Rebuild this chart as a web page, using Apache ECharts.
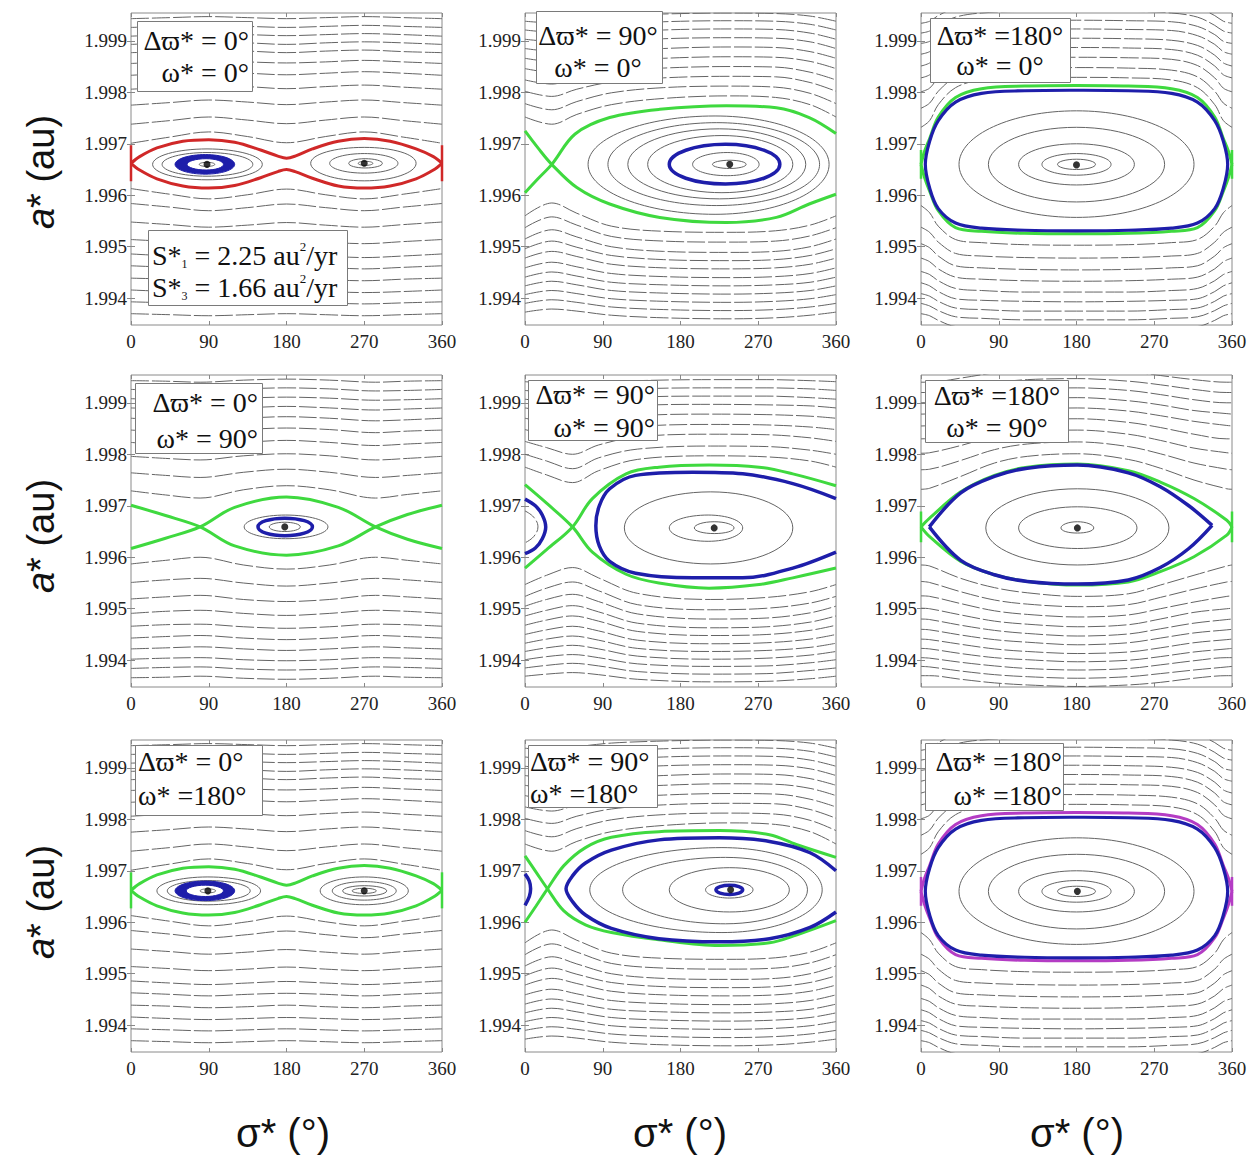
<!DOCTYPE html>
<html>
<head>
<meta charset="utf-8">
<title>Phase portraits a* vs sigma*</title>
<script src="https://cdn.jsdelivr.net/npm/echarts@6.0.0/dist/echarts.min.js"></script>
<style>
  html, body { margin: 0; padding: 0; background: #fff; }
  #chart { width: 1254px; height: 1156px; }
</style>
</head>
<body>
<div id="chart"></div>
<script>
// ---- axes ----
const SIGMA_TICKS = [0, 90, 180, 270, 360];
const A_TICKS = [1.994, 1.995, 1.996, 1.997, 1.998, 1.999];
const A_MIN = 1.99348;
const A_MAX = 1.99954;

// ---- panel 1 : dw=0, w=0 (red separatrix) ----
const p1Nodes = [0, 45, 90, 135, 180, 225, 270, 315, 360];
const p1Above = [
  [1.99701, 1.99713, 1.99723, 1.99714, 1.99702, 1.99714, 1.99723, 1.99713, 1.99701],
  [1.99738, 1.99745, 1.99752, 1.99746, 1.99739, 1.99746, 1.99752, 1.99745, 1.99738],
  [1.99775, 1.99780, 1.99785, 1.99781, 1.99776, 1.99781, 1.99785, 1.99780, 1.99775],
  [1.99806, 1.99810, 1.99814, 1.99811, 1.99807, 1.99811, 1.99814, 1.99810, 1.99806],
  [1.99833, 1.99837, 1.99840, 1.99837, 1.99834, 1.99837, 1.99840, 1.99837, 1.99833],
  [1.99856, 1.99859, 1.99862, 1.99859, 1.99857, 1.99859, 1.99862, 1.99859, 1.99856],
  [1.99877, 1.99879, 1.99882, 1.99880, 1.99877, 1.99880, 1.99882, 1.99879, 1.99877],
  [1.99893, 1.99896, 1.99898, 1.99896, 1.99893, 1.99896, 1.99898, 1.99896, 1.99893],
  [1.99909, 1.99912, 1.99914, 1.99912, 1.99910, 1.99912, 1.99914, 1.99912, 1.99909],
  [1.99926, 1.99928, 1.99930, 1.99928, 1.99926, 1.99928, 1.99930, 1.99928, 1.99926],
  [1.99943, 1.99945, 1.99947, 1.99945, 1.99943, 1.99945, 1.99947, 1.99945, 1.99943]
];
const p1Below = [
  [1.99613, 1.99602, 1.99593, 1.99601, 1.99612, 1.99601, 1.99593, 1.99602, 1.99613],
  [1.99584, 1.99577, 1.99570, 1.99576, 1.99583, 1.99576, 1.99570, 1.99577, 1.99584],
  [1.99548, 1.99543, 1.99538, 1.99542, 1.99547, 1.99542, 1.99538, 1.99543, 1.99548],
  [1.99514, 1.99510, 1.99506, 1.99509, 1.99513, 1.99509, 1.99506, 1.99510, 1.99514],
  [1.99486, 1.99482, 1.99479, 1.99482, 1.99485, 1.99482, 1.99479, 1.99482, 1.99486],
  [1.99463, 1.99460, 1.99457, 1.99460, 1.99462, 1.99460, 1.99457, 1.99460, 1.99463],
  [1.99439, 1.99437, 1.99434, 1.99436, 1.99439, 1.99436, 1.99434, 1.99437, 1.99439],
  [1.99416, 1.99413, 1.99411, 1.99413, 1.99415, 1.99413, 1.99411, 1.99413, 1.99416],
  [1.99393, 1.99391, 1.99389, 1.99391, 1.99393, 1.99391, 1.99389, 1.99391, 1.99393],
  [1.99370, 1.99368, 1.99366, 1.99368, 1.99370, 1.99368, 1.99366, 1.99368, 1.99370]
];
const p1Sep = [
  [[0, 1.99662], [10, 1.99675], [30, 1.99692], [60, 1.99705], [90, 1.99708], [120, 1.99703], [150, 1.99688], [170, 1.99676], [180, 1.99672],
   [190, 1.99676], [210, 1.99690], [240, 1.99705], [270, 1.99710], [300, 1.99705], [330, 1.99690], [350, 1.99675], [360, 1.99662]],
  [[0, 1.99662], [10, 1.99649], [30, 1.99632], [60, 1.99618], [90, 1.99614], [120, 1.99619], [150, 1.99634], [170, 1.99646], [180, 1.99650],
   [190, 1.99646], [210, 1.99633], [240, 1.99618], [270, 1.99614], [300, 1.99618], [330, 1.99632], [350, 1.99649], [360, 1.99662]]
];
const p1Edges = [[[0, 1.99697], [0, 1.99627]], [[360, 1.99697], [360, 1.99627]]];
const p1Rings = [
  [[25, 1.9966], [88, 1.9969], [152, 1.9966], [88, 1.9963]],
  [[36, 1.9966], [88, 1.99683], [141, 1.9966], [88, 1.99637]],
  [[208, 1.99662], [270, 1.99693], [330, 1.99662], [270, 1.99628]],
  [[230, 1.99662], [270, 1.99681], [309, 1.99662], [270, 1.99643]],
  [[252, 1.99662], [271, 1.99671], [291, 1.99662], [271, 1.99653]],
  [[263, 1.99662], [271, 1.99666], [280, 1.99662], [271, 1.99658]]
];
const p1Inner = [[[79, 1.9966], [88, 1.99664], [97, 1.9966], [88, 1.99656]]];
const p1Band = [
  [[51, 1.9966], [86, 1.99679], [120, 1.9966], [86, 1.99641]],
  [[65, 1.9966], [87, 1.99671], [107, 1.9966], [87, 1.99649]]
];
const p1Dots = [[88, 1.9966], [270, 1.99662]];

// ---- panel 2 : dw=90, w=0 ----
const p2Nodes = [0, 31, 60, 100, 160, 235, 290, 330, 360];
const p2Above = [
  [1.99752, 1.99738, 1.99757, 1.99776, 1.99788, 1.99793, 1.99790, 1.99776, 1.99752],
  [1.99778, 1.99766, 1.99782, 1.99799, 1.99809, 1.99812, 1.99810, 1.99798, 1.99778],
  [1.99802, 1.99792, 1.99806, 1.99820, 1.99828, 1.99831, 1.99830, 1.99819, 1.99802],
  [1.99824, 1.99816, 1.99828, 1.99840, 1.99847, 1.99850, 1.99849, 1.99839, 1.99824],
  [1.99846, 1.99839, 1.99849, 1.99860, 1.99866, 1.99869, 1.99868, 1.99860, 1.99846],
  [1.99866, 1.99860, 1.99869, 1.99879, 1.99885, 1.99888, 1.99887, 1.99879, 1.99866],
  [1.99885, 1.99880, 1.99888, 1.99898, 1.99904, 1.99906, 1.99905, 1.99898, 1.99885],
  [1.99903, 1.99899, 1.99906, 1.99915, 1.99921, 1.99923, 1.99922, 1.99915, 1.99903],
  [1.99921, 1.99917, 1.99924, 1.99932, 1.99937, 1.99939, 1.99938, 1.99932, 1.99921],
  [1.99938, 1.99935, 1.99941, 1.99948, 1.99952, 1.99954, 1.99953, 1.99948, 1.99938]
];
const p2Below = [
  [1.99560, 1.99585, 1.99565, 1.99540, 1.99530, 1.99528, 1.99531, 1.99542, 1.99560],
  [1.99537, 1.99558, 1.99542, 1.99520, 1.99511, 1.99509, 1.99511, 1.99521, 1.99537],
  [1.99515, 1.99533, 1.99519, 1.99500, 1.99491, 1.99489, 1.99491, 1.99500, 1.99515],
  [1.99496, 1.99511, 1.99499, 1.99483, 1.99475, 1.99473, 1.99475, 1.99483, 1.99496],
  [1.99478, 1.99491, 1.99481, 1.99466, 1.99459, 1.99457, 1.99459, 1.99466, 1.99478],
  [1.99459, 1.99470, 1.99461, 1.99448, 1.99442, 1.99440, 1.99442, 1.99448, 1.99459],
  [1.99441, 1.99451, 1.99443, 1.99431, 1.99426, 1.99424, 1.99426, 1.99431, 1.99441],
  [1.99424, 1.99433, 1.99426, 1.99415, 1.99410, 1.99408, 1.99410, 1.99415, 1.99424],
  [1.99407, 1.99415, 1.99409, 1.99399, 1.99394, 1.99392, 1.99394, 1.99399, 1.99407],
  [1.99390, 1.99397, 1.99392, 1.99383, 1.99378, 1.99376, 1.99378, 1.99383, 1.99390],
  [1.99373, 1.99379, 1.99375, 1.99367, 1.99362, 1.99360, 1.99362, 1.99367, 1.99373]
];
const p2Sep = [
  [[0, 1.99605], [15, 1.99632], [31, 1.9966], [58, 1.99719], [98, 1.99751], [156, 1.99767], [233, 1.99774], [291, 1.9977], [329, 1.99751], [360, 1.9972]],
  [[0, 1.99725], [15, 1.99692], [31, 1.9966], [60, 1.99615], [98, 1.99583], [156, 1.99557], [233, 1.99547], [291, 1.99557], [329, 1.99583], [360, 1.99602]]
];
const p2Rings = [
  [[217, 1.9966], [237, 1.99668], [256, 1.9966], [237, 1.99652]],
  [[194, 1.9966], [234, 1.99683], [271, 1.9966], [234, 1.99638]],
  [[142, 1.9966], [228, 1.99716], [310, 1.9966], [228, 1.99605]],
  [[119, 1.9966], [225, 1.99729], [325, 1.9966], [225, 1.99593]],
  [[96, 1.9966], [222, 1.99741], [341, 1.9966], [222, 1.9958]],
  [[73, 1.9966], [220, 1.99754], [352, 1.9966], [220, 1.99563]]
];
const p2BlueLoops = [[[167, 1.9966], [232, 1.99699], [295, 1.9966], [232, 1.99622]]];
const p2Dots = [[237, 1.9966]];

// ---- panel 3 : dw=180, w=0 ----
const p3Nodes = [0, 10, 20, 40, 70, 120, 180, 240, 290, 320, 340, 350, 360];
const p3Above = [
  [1.99732, 1.99745, 1.99776, 1.99809, 1.99824, 1.99828, 1.99829, 1.99828, 1.99824, 1.99809, 1.99776, 1.99745, 1.99732],
  [1.99769, 1.99779, 1.99802, 1.99830, 1.99843, 1.99847, 1.99848, 1.99847, 1.99843, 1.99830, 1.99802, 1.99779, 1.99769],
  [1.99801, 1.99808, 1.99828, 1.99852, 1.99864, 1.99867, 1.99868, 1.99867, 1.99864, 1.99852, 1.99828, 1.99808, 1.99801],
  [1.99828, 1.99834, 1.99851, 1.99872, 1.99883, 1.99886, 1.99887, 1.99886, 1.99883, 1.99872, 1.99851, 1.99834, 1.99828],
  [1.99851, 1.99857, 1.99872, 1.99891, 1.99901, 1.99904, 1.99905, 1.99904, 1.99901, 1.99891, 1.99872, 1.99857, 1.99851],
  [1.99874, 1.99879, 1.99893, 1.99910, 1.99920, 1.99922, 1.99923, 1.99922, 1.99920, 1.99910, 1.99893, 1.99879, 1.99874],
  [1.99895, 1.99899, 1.99912, 1.99928, 1.99937, 1.99939, 1.99940, 1.99939, 1.99937, 1.99928, 1.99912, 1.99899, 1.99895],
  [1.99915, 1.99919, 1.99930, 1.99946, 1.99954, 1.99957, 1.99957, 1.99957, 1.99954, 1.99946, 1.99930, 1.99919, 1.99915],
  [1.99934, 1.99938, 1.99949, 1.99964, 1.99971, 1.99974, 1.99974, 1.99974, 1.99971, 1.99964, 1.99949, 1.99938, 1.99934]
];
const p3Below = [
  [1.99580, 1.99566, 1.99540, 1.99514, 1.99508, 1.99504, 1.99503, 1.99504, 1.99508, 1.99514, 1.99540, 1.99566, 1.99580],
  [1.99538, 1.99528, 1.99509, 1.99487, 1.99482, 1.99479, 1.99478, 1.99479, 1.99482, 1.99487, 1.99509, 1.99528, 1.99538],
  [1.99506, 1.99498, 1.99482, 1.99463, 1.99459, 1.99456, 1.99455, 1.99456, 1.99459, 1.99463, 1.99482, 1.99498, 1.99506],
  [1.99478, 1.99471, 1.99457, 1.99441, 1.99437, 1.99434, 1.99433, 1.99434, 1.99437, 1.99441, 1.99457, 1.99471, 1.99478],
  [1.99452, 1.99446, 1.99434, 1.99419, 1.99415, 1.99412, 1.99412, 1.99412, 1.99415, 1.99419, 1.99434, 1.99446, 1.99452],
  [1.99430, 1.99424, 1.99413, 1.99399, 1.99396, 1.99394, 1.99393, 1.99394, 1.99396, 1.99399, 1.99413, 1.99424, 1.99430],
  [1.99409, 1.99404, 1.99394, 1.99381, 1.99378, 1.99375, 1.99375, 1.99375, 1.99378, 1.99381, 1.99394, 1.99404, 1.99409],
  [1.99390, 1.99385, 1.99376, 1.99364, 1.99361, 1.99358, 1.99358, 1.99358, 1.99361, 1.99364, 1.99376, 1.99385, 1.99390],
  [1.99370, 1.99366, 1.99357, 1.99345, 1.99343, 1.99340, 1.99340, 1.99340, 1.99343, 1.99345, 1.99357, 1.99366, 1.99370]
];
const p3Sep = [
  [[0, 1.9966], [4, 1.99685], [10, 1.9971], [20, 1.99752], [40, 1.9979], [70, 1.99807], [120, 1.99812], [180, 1.99813],
   [240, 1.99812], [290, 1.99807], [320, 1.9979], [340, 1.99752], [350, 1.9971], [356, 1.99685], [360, 1.9966]],
  [[0, 1.9966], [4, 1.99635], [10, 1.99608], [20, 1.9957], [40, 1.99537], [70, 1.9953], [120, 1.99526], [180, 1.99525],
   [240, 1.99526], [290, 1.9953], [320, 1.99537], [340, 1.9957], [350, 1.99608], [356, 1.99635], [360, 1.9966]]
];
const p3Edges = [[[0, 1.99688], [0, 1.99632]], [[360, 1.99688], [360, 1.99632]]];
const p3Rings = [
  [[158, 1.9966], [180, 1.9967], [202, 1.9966], [180, 1.9965]],
  [[140, 1.9966], [180, 1.99681], [220, 1.9966], [180, 1.99639]],
  [[113, 1.9966], [180, 1.997], [247, 1.9966], [180, 1.9962]],
  [[78, 1.9966], [180, 1.99732], [282, 1.9966], [180, 1.99587]],
  [[44, 1.9966], [180, 1.99764], [316, 1.9966], [180, 1.99557]]
];
const p3BlueLoops = [[
  [5, 1.9966], [10, 1.99705], [20, 1.99745], [40, 1.99781], [70, 1.99798], [120, 1.99803], [180, 1.99804], [240, 1.99803],
  [290, 1.99798], [320, 1.99781], [340, 1.99745], [350, 1.99705], [355, 1.9966], [350, 1.99614], [340, 1.99574], [320, 1.99546],
  [290, 1.99536], [240, 1.99532], [180, 1.99531], [120, 1.99532], [70, 1.99536], [40, 1.99546], [20, 1.99574], [10, 1.99614]
]];
const p3Dots = [[180, 1.99659]];

// ---- panel 4 : dw=0, w=90 ----
const p4Nodes = [0, 40, 80, 130, 180, 230, 283, 320, 360];
const p4Above = [
  [1.99729, 1.99721, 1.99715, 1.99731, 1.99739, 1.99731, 1.99715, 1.99722, 1.99729],
  [1.99764, 1.99759, 1.99755, 1.99765, 1.99771, 1.99765, 1.99755, 1.99759, 1.99764],
  [1.99796, 1.99792, 1.99789, 1.99797, 1.99801, 1.99797, 1.99789, 1.99792, 1.99796],
  [1.99823, 1.99819, 1.99817, 1.99823, 1.99827, 1.99823, 1.99817, 1.99820, 1.99823],
  [1.99847, 1.99844, 1.99842, 1.99848, 1.99851, 1.99848, 1.99842, 1.99845, 1.99847],
  [1.99870, 1.99867, 1.99865, 1.99870, 1.99873, 1.99870, 1.99865, 1.99867, 1.99870],
  [1.99890, 1.99888, 1.99886, 1.99890, 1.99893, 1.99890, 1.99886, 1.99888, 1.99890],
  [1.99908, 1.99906, 1.99905, 1.99909, 1.99911, 1.99909, 1.99905, 1.99906, 1.99908],
  [1.99926, 1.99924, 1.99923, 1.99927, 1.99929, 1.99927, 1.99923, 1.99924, 1.99926],
  [1.99943, 1.99942, 1.99940, 1.99944, 1.99946, 1.99944, 1.99940, 1.99942, 1.99943]
];
const p4Below = [
  [1.99587, 1.99594, 1.99600, 1.99585, 1.99577, 1.99585, 1.99600, 1.99594, 1.99587],
  [1.99551, 1.99556, 1.99559, 1.99550, 1.99544, 1.99550, 1.99559, 1.99556, 1.99551],
  [1.99519, 1.99523, 1.99526, 1.99518, 1.99514, 1.99518, 1.99526, 1.99523, 1.99519],
  [1.99491, 1.99495, 1.99497, 1.99491, 1.99487, 1.99491, 1.99497, 1.99495, 1.99491],
  [1.99466, 1.99469, 1.99470, 1.99465, 1.99462, 1.99465, 1.99470, 1.99469, 1.99466],
  [1.99443, 1.99446, 1.99448, 1.99443, 1.99440, 1.99443, 1.99448, 1.99446, 1.99443],
  [1.99422, 1.99424, 1.99426, 1.99422, 1.99419, 1.99422, 1.99426, 1.99424, 1.99422],
  [1.99402, 1.99404, 1.99405, 1.99401, 1.99399, 1.99401, 1.99405, 1.99404, 1.99402],
  [1.99384, 1.99386, 1.99387, 1.99383, 1.99381, 1.99383, 1.99387, 1.99386, 1.99384],
  [1.99366, 1.99367, 1.99369, 1.99365, 1.99363, 1.99365, 1.99369, 1.99367, 1.99366]
];
const p4Sep = [
  [[0, 1.99701], [40, 1.99681], [80, 1.99659], [120, 1.99622], [180, 1.99604], [240, 1.99622], [283, 1.99659], [320, 1.99683], [360, 1.99701]],
  [[0, 1.99617], [40, 1.99637], [80, 1.99659], [120, 1.99697], [180, 1.99717], [240, 1.99697], [283, 1.99659], [320, 1.99635], [360, 1.99617]]
];
const p4Rings = [
  [[131, 1.99659], [179, 1.99682], [228, 1.99659], [179, 1.99636]],
  [[160, 1.99659], [178, 1.99668], [196, 1.99659], [178, 1.9965]]
];
const p4BlueLoops = [[[147, 1.99659], [178, 1.99676], [210, 1.99659], [178, 1.99642]]];
const p4Dots = [[178, 1.99659]];

// ---- panel 5 : dw=90, w=90 ----
const p5Nodes = [0, 25, 55, 85, 130, 215, 280, 330, 360];
const p5Above = [
  [1.99775, 1.99760, 1.99745, 1.99768, 1.99790, 1.99797, 1.99795, 1.99787, 1.99775],
  [1.99800, 1.99787, 1.99772, 1.99793, 1.99810, 1.99816, 1.99815, 1.99808, 1.99800],
  [1.99825, 1.99813, 1.99800, 1.99818, 1.99834, 1.99839, 1.99838, 1.99832, 1.99825],
  [1.99848, 1.99838, 1.99828, 1.99842, 1.99854, 1.99858, 1.99857, 1.99853, 1.99848],
  [1.99870, 1.99862, 1.99854, 1.99865, 1.99875, 1.99878, 1.99877, 1.99874, 1.99870],
  [1.99890, 1.99884, 1.99878, 1.99886, 1.99895, 1.99897, 1.99896, 1.99894, 1.99890],
  [1.99907, 1.99902, 1.99897, 1.99904, 1.99911, 1.99913, 1.99913, 1.99910, 1.99907],
  [1.99924, 1.99920, 1.99916, 1.99921, 1.99927, 1.99929, 1.99929, 1.99927, 1.99924],
  [1.99941, 1.99938, 1.99935, 1.99939, 1.99943, 1.99945, 1.99945, 1.99943, 1.99941]
];
const p5Below = [
  [1.99547, 1.99565, 1.99580, 1.99560, 1.99530, 1.99518, 1.99522, 1.99533, 1.99547],
  [1.99524, 1.99540, 1.99552, 1.99535, 1.99508, 1.99498, 1.99501, 1.99511, 1.99524],
  [1.99505, 1.99518, 1.99528, 1.99514, 1.99490, 1.99480, 1.99482, 1.99492, 1.99505],
  [1.99486, 1.99497, 1.99506, 1.99494, 1.99472, 1.99463, 1.99465, 1.99474, 1.99486],
  [1.99468, 1.99478, 1.99486, 1.99476, 1.99456, 1.99448, 1.99450, 1.99458, 1.99468],
  [1.99450, 1.99459, 1.99466, 1.99457, 1.99439, 1.99432, 1.99434, 1.99441, 1.99450],
  [1.99433, 1.99441, 1.99447, 1.99439, 1.99423, 1.99417, 1.99419, 1.99425, 1.99433],
  [1.99417, 1.99424, 1.99429, 1.99422, 1.99408, 1.99402, 1.99404, 1.99410, 1.99417],
  [1.99401, 1.99407, 1.99411, 1.99405, 1.99393, 1.99388, 1.99389, 1.99395, 1.99401],
  [1.99385, 1.99390, 1.99394, 1.99389, 1.99378, 1.99373, 1.99374, 1.99380, 1.99385],
  [1.99369, 1.99373, 1.99376, 1.99372, 1.99363, 1.99358, 1.99359, 1.99364, 1.99369]
];
const p5Sep = [
  [[0, 1.99741], [25, 1.99705], [55, 1.99659], [78, 1.9961], [117, 1.99567], [155, 1.9955], [213, 1.9954], [271, 1.99547], [310, 1.9956], [360, 1.99579]],
  [[0, 1.99579], [25, 1.99615], [55, 1.99659], [78, 1.99714], [117, 1.99762], [155, 1.99775], [213, 1.99779], [271, 1.99775], [310, 1.99762], [360, 1.99739]]
];
const p5Rings = [
  [[196, 1.99657], [219, 1.99669], [242, 1.99657], [219, 1.99646]],
  [[167, 1.99657], [212, 1.99682], [252, 1.99657], [212, 1.99631]],
  [[115, 1.99657], [215, 1.99727], [310, 1.99657], [215, 1.99587]]
];
const p5GrayCurves = [[[0, 1.9969], [10, 1.99678], [15, 1.99659], [10, 1.9964], [0, 1.99628]]];
const p5BlueCurves = [
  [[0, 1.99713], [12, 1.997], [20, 1.99682], [24, 1.99659], [20, 1.99636], [12, 1.99618], [0, 1.99607]],
  [[360, 1.99714], [310, 1.99743], [252, 1.99762], [194, 1.99765], [128, 1.99759], [98, 1.99733], [86, 1.997], [82, 1.99661],
   [86, 1.99622], [98, 1.99592], [128, 1.99569], [194, 1.9956], [252, 1.9956], [310, 1.99579], [360, 1.9961]]
];
const p5Dots = [[219, 1.99657]];

// ---- panel 6 : dw=180, w=90 ----
const p6Nodes = [0, 10, 46, 85, 123, 181, 240, 277, 316, 354, 360];
const p6Above = [
  [1.99732, 1.99734, 1.99757, 1.99783, 1.99796, 1.99801, 1.99790, 1.99773, 1.99750, 1.99733, 1.99732],
  [1.99770, 1.99771, 1.99788, 1.99809, 1.99820, 1.99824, 1.99815, 1.99801, 1.99783, 1.99771, 1.99770],
  [1.99802, 1.99803, 1.99817, 1.99835, 1.99844, 1.99847, 1.99839, 1.99827, 1.99812, 1.99803, 1.99802],
  [1.99830, 1.99831, 1.99843, 1.99858, 1.99866, 1.99869, 1.99862, 1.99852, 1.99839, 1.99830, 1.99830],
  [1.99855, 1.99856, 1.99867, 1.99880, 1.99887, 1.99890, 1.99884, 1.99875, 1.99864, 1.99856, 1.99855],
  [1.99878, 1.99879, 1.99889, 1.99901, 1.99907, 1.99910, 1.99904, 1.99896, 1.99885, 1.99879, 1.99878],
  [1.99900, 1.99901, 1.99909, 1.99921, 1.99927, 1.99929, 1.99924, 1.99916, 1.99906, 1.99900, 1.99900],
  [1.99920, 1.99920, 1.99929, 1.99939, 1.99945, 1.99947, 1.99942, 1.99935, 1.99926, 1.99920, 1.99920],
  [1.99940, 1.99940, 1.99948, 1.99958, 1.99963, 1.99965, 1.99961, 1.99953, 1.99945, 1.99940, 1.99940]
];
const p6Below = [
  [1.99585, 1.99583, 1.99559, 1.99541, 1.99531, 1.99524, 1.99529, 1.99546, 1.99565, 1.99583, 1.99585],
  [1.99553, 1.99551, 1.99533, 1.99517, 1.99509, 1.99504, 1.99508, 1.99522, 1.99538, 1.99552, 1.99553],
  [1.99525, 1.99524, 1.99510, 1.99496, 1.99489, 1.99484, 1.99488, 1.99500, 1.99513, 1.99524, 1.99525],
  [1.99501, 1.99500, 1.99488, 1.99476, 1.99470, 1.99465, 1.99469, 1.99480, 1.99493, 1.99500, 1.99501],
  [1.99480, 1.99479, 1.99468, 1.99458, 1.99452, 1.99447, 1.99451, 1.99461, 1.99472, 1.99479, 1.99480],
  [1.99460, 1.99459, 1.99449, 1.99440, 1.99435, 1.99430, 1.99434, 1.99443, 1.99453, 1.99459, 1.99460],
  [1.99441, 1.99440, 1.99431, 1.99422, 1.99417, 1.99413, 1.99416, 1.99424, 1.99434, 1.99440, 1.99441],
  [1.99423, 1.99422, 1.99413, 1.99405, 1.99401, 1.99397, 1.99400, 1.99407, 1.99416, 1.99422, 1.99423],
  [1.99405, 1.99404, 1.99396, 1.99389, 1.99384, 1.99381, 1.99384, 1.99391, 1.99399, 1.99405, 1.99405],
  [1.99388, 1.99387, 1.99379, 1.99372, 1.99368, 1.99365, 1.99368, 1.99374, 1.99381, 1.99387, 1.99388],
  [1.99370, 1.99370, 1.99363, 1.99356, 1.99352, 1.99349, 1.99352, 1.99357, 1.99365, 1.99370, 1.99370]
];
const p6Sep = [
  [[0, 1.99659], [10, 1.99676], [46, 1.99727], [85, 1.99759], [123, 1.99775], [181, 1.99781], [240, 1.99768], [277, 1.99746], [316, 1.99714], [354, 1.99672], [360, 1.99659]],
  [[0, 1.99659], [10, 1.9964], [46, 1.99592], [85, 1.99566], [123, 1.99553], [181, 1.99546], [240, 1.99552], [277, 1.99572], [316, 1.99601], [354, 1.99643], [360, 1.99659]]
];
const p6Edges = [[[0, 1.99689], [0, 1.99629]], [[360, 1.99689], [360, 1.99629]]];
const p6Rings = [
  [[162, 1.99657], [181, 1.99669], [200, 1.99657], [181, 1.99647]],
  [[113, 1.99657], [181, 1.99698], [250, 1.99657], [181, 1.99617]],
  [[75, 1.99657], [181, 1.99733], [287, 1.99657], [181, 1.99585]]
];
const p6BlueCurves = [
  [[9.6, 1.99659], [46, 1.99725], [85, 1.99757], [123, 1.99773], [181, 1.99779], [240, 1.99764], [277, 1.99737], [310, 1.997], [337, 1.99662]],
  [[9.6, 1.99659], [46, 1.99594], [85, 1.99566], [123, 1.99553], [181, 1.99548], [240, 1.99556], [277, 1.9958], [310, 1.99617], [337, 1.99662]]
];
const p6Dots = [[181, 1.99657]];

// ---- panel 7 : dw=0, w=180 (green, same background as panel 1) ----
const p7Rings = [
  [[30, 1.99661], [89, 1.99688], [150, 1.99661], [89, 1.99634]],
  [[42, 1.99661], [89, 1.99681], [138, 1.99661], [89, 1.99641]],
  [[219, 1.99661], [270, 1.99688], [321, 1.99661], [270, 1.99634]],
  [[233, 1.99661], [270, 1.99679], [307, 1.99661], [270, 1.99643]],
  [[245, 1.99661], [270, 1.99671], [296, 1.99661], [270, 1.99651]],
  [[256, 1.99661], [270, 1.99666], [284, 1.99661], [270, 1.99656]]
];
const p7Inner = [[[80, 1.99661], [89, 1.99665], [98, 1.99661], [89, 1.99657]]];
const p7Band = [
  [[51, 1.99661], [86, 1.9968], [120, 1.99661], [86, 1.99642]],
  [[64, 1.99661], [86, 1.99672], [107, 1.99661], [86, 1.9965]]
];
const p7Dots = [[89, 1.99661], [270, 1.99661]];

// ---- panel 8 : dw=90, w=180 (same background as panel 2) ----
const p8Sep = [
  [[0, 1.996], [13, 1.99632], [26, 1.99665], [45, 1.9971], [70, 1.99745], [100, 1.99765], [155, 1.99776], [225, 1.99778], [283, 1.9977], [314, 1.99751], [360, 1.99726]],
  [[0, 1.99729], [13, 1.99697], [26, 1.99665], [45, 1.99622], [70, 1.99595], [100, 1.9958], [155, 1.99566], [225, 1.99555], [283, 1.9956], [314, 1.99575], [360, 1.99603]]
];
const p8Rings = [
  [[209, 1.99663], [237, 1.99679], [264, 1.99663], [237, 1.99647]],
  [[167, 1.99663], [237, 1.99706], [306, 1.99663], [237, 1.9962]],
  [[113, 1.99663], [232, 1.99726], [327, 1.99663], [232, 1.99597]],
  [[75, 1.99663], [228, 1.99745], [344, 1.99663], [228, 1.9958]]
];
const p8BlueLoops = [[[221, 1.99663], [237, 1.99672], [252, 1.99663], [237, 1.99654]]];
const p8BlueCurves = [
  [[0, 1.99694], [5, 1.9968], [6.5, 1.99665], [5, 1.9965], [0, 1.99633]],
  [[360, 1.997], [330, 1.99735], [283, 1.99757], [225, 1.99764], [155, 1.9976], [100, 1.9974], [70, 1.99715], [55, 1.9969], [47.5, 1.99665],
   [55, 1.9964], [70, 1.99614], [100, 1.99588], [155, 1.99568], [225, 1.99562], [283, 1.99568], [330, 1.9959], [360, 1.9962]]
];
const p8Dots = [[238, 1.99663]];

// ---- panel 9 : dw=180, w=180 (magenta, same background as panel 3) ----
const p9Dots = [[181, 1.9966]];

// ---- text ----
const boxLines = [
  ['Δϖ* = 0°', 'ω* = 0°'], ['Δϖ* = 90°', 'ω* = 0°'], ['Δϖ* =180°', 'ω* = 0°'],
  ['Δϖ* = 0°', 'ω* = 90°'], ['Δϖ* = 90°', 'ω* = 90°'], ['Δϖ* =180°', 'ω* = 90°'],
  ['Δϖ* = 0°', 'ω* =180°'], ['Δϖ* = 90°', 'ω* =180°'], ['Δϖ* =180°', 'ω* =180°']
];
const sLines = [['1', '2.25'], ['3', '1.66']];

const GRAY = '#646464', RED = '#d02828', GREEN = '#3fd93f', BLUE = '#1e1eaa', MAGENTA = '#b43cc4';

const panels = [
  { nodes: p1Nodes, above: p1Above, below: p1Below, sep: p1Sep, sepColor: RED, edges: p1Edges, rings: p1Rings, inner: p1Inner, band: p1Band, dots: p1Dots },
  { nodes: p2Nodes, above: p2Above, below: p2Below, sep: p2Sep, sepColor: GREEN, rings: p2Rings, blueLoops: p2BlueLoops, dots: p2Dots },
  { nodes: p3Nodes, above: p3Above, below: p3Below, sep: p3Sep, sepColor: GREEN, edges: p3Edges, rings: p3Rings, blueLoops: p3BlueLoops, dots: p3Dots },
  { nodes: p4Nodes, above: p4Above, below: p4Below, sep: p4Sep, sepColor: GREEN, rings: p4Rings, blueLoops: p4BlueLoops, dots: p4Dots },
  { nodes: p5Nodes, above: p5Above, below: p5Below, sep: p5Sep, sepColor: GREEN, rings: p5Rings, grayCurves: p5GrayCurves, blueCurves: p5BlueCurves, dots: p5Dots },
  { nodes: p6Nodes, above: p6Above, below: p6Below, sep: p6Sep, sepColor: GREEN, edges: p6Edges, rings: p6Rings, blueCurves: p6BlueCurves, dots: p6Dots },
  { nodes: p1Nodes, above: p1Above, below: p1Below, sep: p1Sep, sepColor: GREEN, edges: p1Edges, rings: p7Rings, inner: p7Inner, band: p7Band, dots: p7Dots },
  { nodes: p2Nodes, above: p2Above, below: p2Below, sep: p8Sep, sepColor: GREEN, rings: p8Rings, blueLoops: p8BlueLoops, blueCurves: p8BlueCurves, dots: p8Dots },
  { nodes: p3Nodes, above: p3Above, below: p3Below, sep: p3Sep, sepColor: MAGENTA, edges: p3Edges, rings: p3Rings, blueLoops: p3BlueLoops, dots: p9Dots }
];

// ---- layout ----
const colLeft = [131, 525, 921];
const rowTop = [13, 375, 740];
const GRID_W = 311, GRID_H = 312;
const boxRects = [
  [137, 21, 115, 70], [536, 11, 126, 72], [930, 18, 140, 64],
  [135, 383, 127, 70], [528, 380, 129, 60], [925, 380, 143, 62],
  [135, 745, 127, 70], [528, 745, 129, 62], [925, 743, 138, 67]
];
// text anchor: [x, align, y1, y2]
const boxText = [
  [249, 'right', 40, 72], [598, 'center', 35, 67], [1000, 'center', 35, 65],
  [258, 'right', 402, 438], [655, 'right', 394, 427], [997, 'center', 395, 427],
  [138, 'left', 761, 795], [530, 'left', 761, 793], [1062, 'right', 761, 795]
];

const SERIF = "'Liberation Serif', 'Times New Roman', serif";
const SANS = "'Liberation Sans', Arial, sans-serif";

function loop(g, pts, stroke, width, z, fill, smooth) {
  return {
    type: 'custom', xAxisIndex: g, yAxisIndex: g, silent: true, z: z, clip: true,
    data: [pts[0]],
    renderItem: (params, api) => ({
      type: 'polygon',
      shape: { points: pts.map(p => api.coord(p)), smooth: smooth == null ? 0.55 : smooth },
      style: { fill: fill || 'none', stroke: stroke, lineWidth: width }
    })
  };
}

function curve(g, pts, color, width, z, smooth, dash) {
  return {
    type: 'line', xAxisIndex: g, yAxisIndex: g, data: pts, smooth: smooth,
    symbol: 'none', silent: true, z: z,
    lineStyle: { color: color, width: width, type: dash || 'solid' }
  };
}

const grids = [], xAxes = [], yAxes = [], series = [];

for (let g = 0; g < 9; g++) {
  grids.push({
    left: colLeft[g % 3], top: rowTop[Math.floor(g / 3)], width: GRID_W, height: GRID_H,
    show: true, borderColor: '#8a8a8a', borderWidth: 1, backgroundColor: '#fff'
  });
}
for (let k = 0; k < 2; k++) {
  for (let g = 0; g < 9; g++) {
    xAxes.push({
      gridIndex: g, type: 'value', min: 0, max: 360, interval: 90,
      position: k === 0 ? 'bottom' : 'top',
      axisLine: { show: false }, splitLine: { show: false },
      axisTick: { inside: true, length: 4, lineStyle: { color: '#888' } },
      axisLabel: {
        show: k === 0, margin: 7, color: '#222', fontFamily: SERIF, fontSize: 19
      }
    });
    yAxes.push({
      gridIndex: g, type: 'value', min: A_MIN, max: A_MAX,
      position: k === 0 ? 'left' : 'right',
      axisLine: { show: false }, splitLine: { show: false },
      axisTick: { inside: true, length: 4, customValues: A_TICKS, lineStyle: { color: '#888' } },
      axisLabel: {
        show: k === 0, customValues: A_TICKS, margin: 4, color: '#222',
        fontFamily: SERIF, fontSize: 19, formatter: v => v.toFixed(3)
      }
    });
  }
}

panels.forEach((p, g) => {
  p.above.concat(p.below).forEach(row => {
    series.push(curve(g, p.nodes.map((s, i) => [s, row[i]]), GRAY, 1, 2, 0.35, [18, 3]));
  });
  (p.grayCurves || []).forEach(c => series.push(curve(g, c, GRAY, 1, 3, 0.4, [12, 3])));
  p.rings.forEach(r => series.push(loop(g, r, GRAY, 1, 3)));
  p.sep.forEach(c => series.push(curve(g, c, p.sepColor, 3, 4, 0.35)));
  (p.edges || []).forEach(c => series.push(curve(g, c, p.sepColor, 2.5, 4, false)));
  if (p.band) {
    series.push(loop(g, p.band[0], BLUE, 1, 5, BLUE));
    series.push(loop(g, p.band[1], BLUE, 1, 6, '#fff'));
  }
  (p.blueLoops || []).forEach(r => series.push(loop(g, r, BLUE, r.length > 4 ? 3.2 : 3.5, 5, null, r.length > 4 ? 0.35 : 0.55)));
  (p.blueCurves || []).forEach(c => series.push(curve(g, c, BLUE, 3.5, 5, 0.35)));
  (p.inner || []).forEach(r => series.push(loop(g, r, GRAY, 1, 7)));
  series.push({
    type: 'scatter', xAxisIndex: g, yAxisIndex: g, data: p.dots, symbolSize: 7,
    itemStyle: { color: '#000' }, silent: true, z: 8
  });
});

// ---- annotation graphics ----
const graphics = [];
boxRects.forEach((r, i) => {
  graphics.push({
    type: 'rect', z: 100, shape: { x: r[0] + 0.5, y: r[1] + 0.5, width: r[2], height: r[3] },
    style: { fill: '#fff', stroke: '#7a7a7a', lineWidth: 1 }
  });
  const t = boxText[i];
  boxLines[i].forEach((line, j) => {
    graphics.push({
      type: 'text', z: 101, x: t[0], y: j === 0 ? t[2] : t[3],
      style: { text: line, font: '28px ' + SERIF, fill: '#111', textAlign: t[1], textVerticalAlign: 'middle' }
    });
  });
});
// S* box in first panel
graphics.push({
  type: 'rect', z: 100, shape: { x: 148.5, y: 230.5, width: 199, height: 75 },
  style: { fill: '#fff', stroke: '#7a7a7a', lineWidth: 1 }
});
sLines.forEach((s, j) => {
  graphics.push({
    type: 'text', z: 101, x: 152, y: 255 + j * 32,
    style: {
      text: '{n|S*}{sub|' + s[0] + '}{n| = ' + s[1] + ' au}{sup|2}{n|/yr}',
      textVerticalAlign: 'middle', textAlign: 'left',
      rich: {
        n: { fontFamily: SERIF, fontSize: 28, fill: '#111', lineHeight: 30 },
        sub: { fontFamily: SERIF, fontSize: 12, fill: '#111', lineHeight: 30, verticalAlign: 'bottom' },
        sup: { fontFamily: SERIF, fontSize: 13, fill: '#111', lineHeight: 30, verticalAlign: 'top' }
      }
    }
  });
});
// axis titles
const yTitleY = [172, 536, 902];
yTitleY.forEach(y => {
  graphics.push({
    type: 'text', z: 101, x: 41, y: y, rotation: Math.PI / 2,
    style: {
      text: '{i|a}{n|* (au)}', textAlign: 'center', textVerticalAlign: 'middle',
      rich: {
        i: { fontFamily: SANS, fontSize: 38, fontStyle: 'italic', fill: '#111' },
        n: { fontFamily: SANS, fontSize: 38, fill: '#111' }
      }
    }
  });
});
const xTitleX = [283, 680, 1077];
xTitleX.forEach(x => {
  graphics.push({
    type: 'text', z: 101, x: x, y: 1133,
    style: { text: 'σ* (°)', font: '40px ' + SANS, fill: '#111', textAlign: 'center', textVerticalAlign: 'middle' }
  });
});

const chart = echarts.init(document.getElementById('chart'), null, { renderer: 'svg' });
chart.setOption({
  animation: false,
  backgroundColor: '#fff',
  grid: grids,
  xAxis: xAxes,
  yAxis: yAxes,
  series: series,
  graphic: { elements: graphics }
});
</script>
</body>
</html>
